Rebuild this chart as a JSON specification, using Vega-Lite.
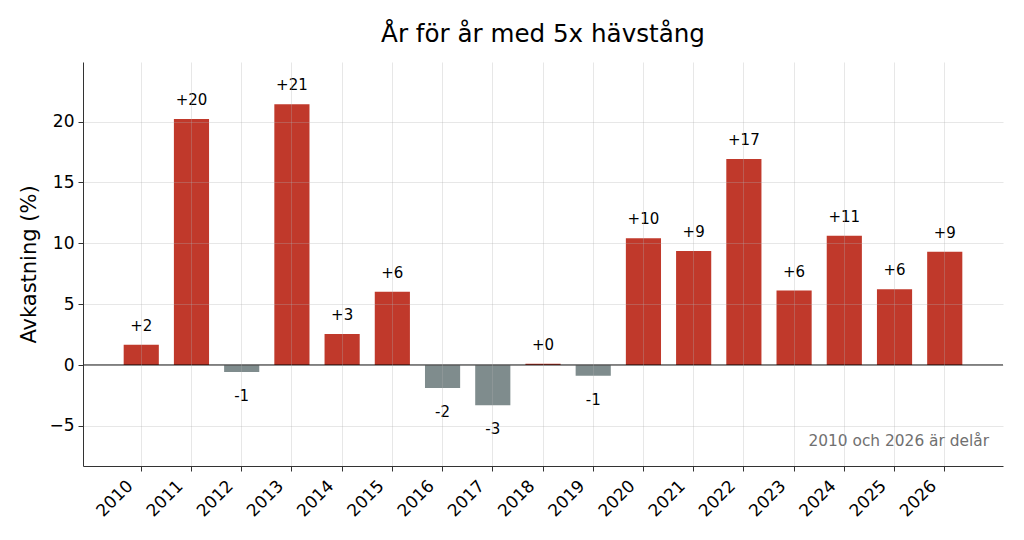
{
  "$schema": "https://vega.github.io/schema/vega-lite/v6.json",
  "width": 920,
  "height": 404,
  "autosize": {"type": "none"},
  "padding": {"left": 83, "top": 62, "right": 21, "bottom": 74},
  "background": "white",
  "config": {
    "view": {"stroke": null},
    "font": "DejaVu Sans",
    "axis": {"labelFont": "DejaVu Sans", "titleFont": "DejaVu Sans"}
  },
  "title": {
    "text": "År för år med 5x hävstång",
    "font": "DejaVu Sans",
    "fontSize": 24.6,
    "fontWeight": "normal",
    "color": "black",
    "anchor": "middle",
    "offset": 14
  },
  "data": {
    "values": [
      {"ar": "2010", "avkastning": 1.67},
      {"ar": "2011", "avkastning": 20.22},
      {"ar": "2012", "avkastning": -0.58},
      {"ar": "2013", "avkastning": 21.43},
      {"ar": "2014", "avkastning": 2.55},
      {"ar": "2015", "avkastning": 6.02},
      {"ar": "2016", "avkastning": -1.9},
      {"ar": "2017", "avkastning": -3.3},
      {"ar": "2018", "avkastning": 0.1},
      {"ar": "2019", "avkastning": -0.88},
      {"ar": "2020", "avkastning": 10.41},
      {"ar": "2021", "avkastning": 9.37},
      {"ar": "2022", "avkastning": 16.92},
      {"ar": "2023", "avkastning": 6.12},
      {"ar": "2024", "avkastning": 10.63},
      {"ar": "2025", "avkastning": 6.23},
      {"ar": "2026", "avkastning": 9.31}
    ]
  },
  "transform": [
    {"calculate": "(datum.avkastning >= 0 ? '+' : '-') + abs(round(datum.avkastning))", "as": "etikett"},
    {"calculate": "datum.avkastning >= 0 ? 'pos' : 'neg'", "as": "tecken"}
  ],
  "layer": [
    {
      "mark": {"type": "bar"},
      "encoding": {
        "x": {
          "field": "ar",
          "type": "ordinal",
          "scale": {"paddingInner": 0.3, "paddingOuter": 0.81},
          "axis": {
            "title": null,
            "labelAngle": -45,
            "labelAlign": "right",
            "labelBaseline": "middle",
            "labelFontSize": 17,
            "labelColor": "black",
            "labelPadding": 12,
            "labelOffset": -11,
            "tickSize": 5,
            "tickColor": "#333333",
            "domainColor": "#333333",
            "grid": true,
            "gridColor": "#b0b0b0",
            "gridOpacity": 0.3,
            "zindex": 1
          }
        },
        "y": {
          "field": "avkastning",
          "type": "quantitative",
          "scale": {"domain": [-8.3, 24.9], "nice": false, "zero": false},
          "axis": {
            "title": "Avkastning (%)",
            "titleFontSize": 21,
            "titleFontWeight": "normal",
            "titleColor": "black",
            "titlePadding": 9,
            "values": [-5, 0, 5, 10, 15, 20],
            "labelExpr": "replace(datum.label, '-', '−')",
            "labelFontSize": 17,
            "labelColor": "black",
            "labelPadding": 4,
            "tickSize": 5,
            "tickColor": "#333333",
            "domainColor": "#333333",
            "grid": true,
            "gridColor": "#b0b0b0",
            "gridOpacity": 0.3,
            "zindex": 1
          }
        },
        "color": {
          "field": "tecken",
          "type": "nominal",
          "scale": {"domain": ["pos", "neg"], "range": ["#c0392b", "#7f8c8d"]},
          "legend": null
        }
      }
    },
    {
      "data": {"values": [{}]},
      "mark": {"type": "rule", "color": "black", "strokeWidth": 1.2},
      "encoding": {"y": {"datum": 0}}
    },
    {
      "transform": [{"filter": "datum.tecken == 'pos'"}],
      "mark": {"type": "text", "baseline": "middle", "dy": -19, "fontSize": 15, "color": "black"},
      "encoding": {
        "x": {"field": "ar", "type": "ordinal"},
        "y": {"field": "avkastning", "type": "quantitative"},
        "text": {"field": "etikett"}
      }
    },
    {
      "transform": [{"filter": "datum.tecken == 'neg'"}],
      "mark": {"type": "text", "baseline": "middle", "dy": 24, "fontSize": 15, "color": "black"},
      "encoding": {
        "x": {"field": "ar", "type": "ordinal"},
        "y": {"field": "avkastning", "type": "quantitative"},
        "text": {"field": "etikett"}
      }
    },
    {
      "data": {"values": [{"not": "2010 och 2026 är delår"}]},
      "mark": {"type": "text", "x": {"expr": "width - 14"}, "align": "right", "baseline": "middle", "fontSize": 15.4, "color": "#707070"},
      "encoding": {
        "y": {"datum": -6.24},
        "text": {"field": "not"}
      }
    }
  ]
}
